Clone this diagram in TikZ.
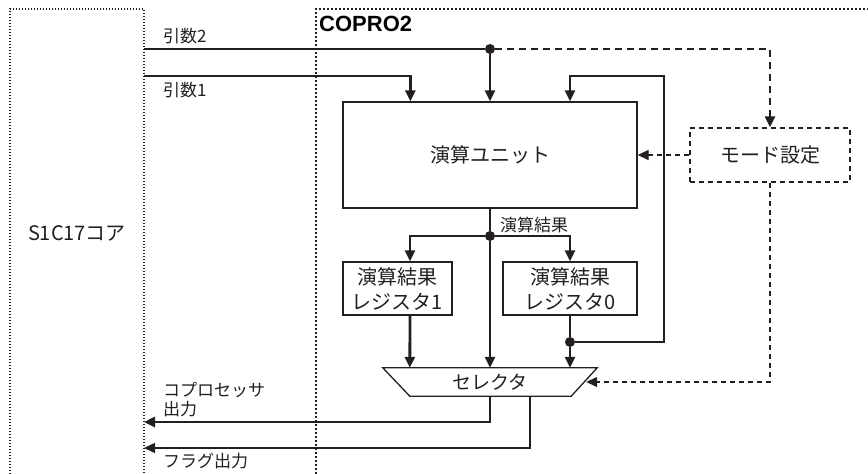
\documentclass[tikz,border=0pt]{standalone}
\usepackage{fontspec}
\setmainfont{Noto Sans CJK JP}
\newfontfamily\coprofont{Liberation Sans}
\usetikzlibrary{arrows.meta,calc}
\definecolor{lineblack}{RGB}{35,31,32}

\begin{document}
\begin{tikzpicture}[x=1pt, y=-1pt,
    box/.style={rectangle, draw=lineblack, line width=1.3pt, align=center, inner sep=0pt, text=lineblack, font=\fontsize{20}{25}\selectfont},
    bus/.style={line width=2.8pt, draw=lineblack},
    flagline/.style={line width=1.3pt, draw=lineblack},
    ctl/.style={line width=1.3pt, draw=lineblack, dash pattern=on 5pt off 4pt},
    ctlbus/.style={line width=2.8pt, draw=lineblack, dash pattern=on 7pt off 5pt},
    tip/.style={-{Triangle[length=11pt,width=10pt]}},
    lbl/.style={anchor=west, inner sep=0pt, align=left, text=lineblack, font=\fontsize{17}{19}\selectfont},
    dot/.style={circle, fill=lineblack, inner sep=0pt, minimum size=10pt}
]
    \useasboundingbox (0,0) rectangle (868,474);

    \draw[lineblack, line width=1.4pt, dash pattern=on 1.4pt off 1.6pt] (10,474) -- (10,9) -- (144,9) -- (144,474);
    \draw[lineblack, line width=2.2pt, dash pattern=on 2.2pt off 1.8pt] (316,474) -- (316,9) -- (868,9);
    \node[text=lineblack, font=\fontsize{20}{24}\selectfont] (core) at (77,233) {S1C17コア};
    \node[anchor=west, inner sep=0pt, font=\coprofont\bfseries\fontsize{22}{24}\selectfont] (copro) at (319,24) {COPRO2};

    \node[box, minimum width=294pt, minimum height=106pt] (unit) at (490,155) {演算ユニット};
    \node[box, minimum width=109pt, minimum height=53pt] (reg1) at (397.5,288.5) {演算結果\\レジスタ1};
    \node[box, minimum width=134pt, minimum height=53pt] (reg0) at (570,288.5) {演算結果\\レジスタ0};
    \node[box, ctl, minimum width=160pt, minimum height=54pt] (mode) at (770,155) {モード設定};
    \node[text=lineblack, font=\fontsize{19}{22}\selectfont, minimum width=214pt, minimum height=28pt, inner sep=0pt] (sel) at (490,382) {セレクタ};
    \draw[flagline] (sel.north west) -- (sel.north east) -- ($(sel.south east)+(-26,0)$) -- ($(sel.south west)+(27,0)$) -- cycle;

    \coordinate (in2) at (144,49);
    \coordinate (in1) at (144,76);
    \coordinate (outp) at (144,422);
    \coordinate (outf) at (144,448);
    \coordinate (fb) at (664,76);
    \node[dot] (j2) at (490,49) {};
    \node[dot] (jr) at (490,236) {};
    \node[dot] (j0) at (570,342) {};

    \draw[bus] (in2) -- (j2);
    \draw[bus, tip] (j2) -- (unit.north);
    \draw[ctlbus, tip] (j2) -| (mode.north);
    \draw[bus, tip] (in1) -| ($(unit.north west)+(68,0)$);
    \draw[bus, tip] (j0) -| (fb) -| ($(unit.north)+(80,0)$);
    \draw[ctl, tip] (mode.west) -- (unit.east);
    \draw[ctl, tip] (mode.south) |- ($(sel.east)+(-11,0)$);

    \draw[bus] (unit.south) -- (jr);
    \draw[bus, tip] (jr) -| ($(reg1.north)+(12.5,0)$);
    \draw[bus, tip] (jr) -| (reg0.north);
    \draw[bus, tip] (jr) -- (sel.north);
    \draw[bus, tip] ($(reg1.south)+(12.5,0)$) -- ($(sel.north west)+(27,0)$);
    \draw[bus] (reg0.south) -- (j0);
    \draw[bus, tip] (j0) -- (sel.north -| j0);

    \draw[bus, tip] (sel.south) |- (outp);
    \draw[flagline, tip] ($(sel.south)+(40,0)$) |- (outf);

    \node[lbl] (arg2) at (163,36) {引数2};
    \node[lbl] (arg1) at (163,90) {引数1};
    \node[lbl] (res) at (500,225) {演算結果};
    \node[lbl] (cpout) at (163,400) {コプロセッサ\\出力};
    \node[lbl] (flag) at (163,461) {フラグ出力};
\end{tikzpicture}
\end{document}
